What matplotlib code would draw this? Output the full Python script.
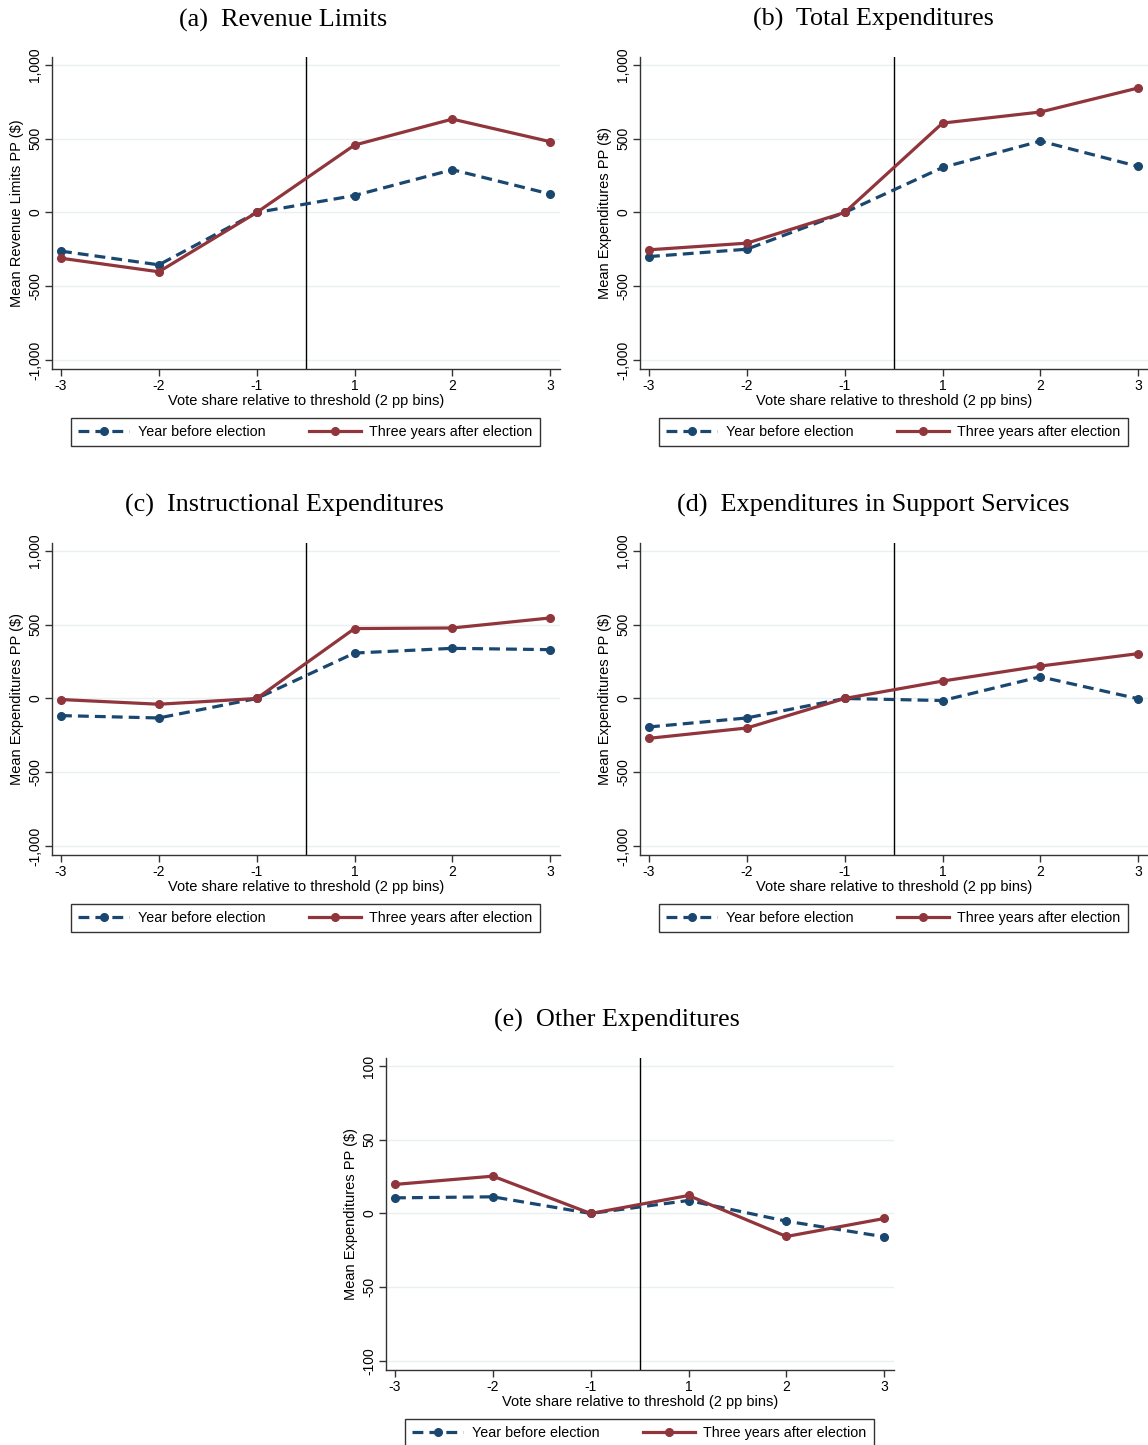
import matplotlib
matplotlib.use("Agg")
import matplotlib.pyplot as plt
import numpy as np
from matplotlib.ticker import FuncFormatter

plt.rcParams["font.family"] = ["Liberation Sans", "DejaVu Sans"]
plt.rcParams["axes.unicode_minus"] = False

NAVY, MAROON, GRID, SPINE = "#1a476f", "#90353b", "#e8f0f1", "#333333"

# ── data (bins of vote share relative to threshold) ─────────────────────
bins = ["-3", "-2", "-1", "1", "2", "3"]

rev_before = [-262, -355, 0, 115, 290, 125]
rev_after = [-310, -402, 0, 457, 633, 480]

tot_before = [-299, -249, 0, 305, 484, 312]
tot_after = [-253, -208, 0, 606, 681, 844]

ins_before = [-116, -132, 0, 308, 340, 331]
ins_after = [-7, -39, 0, 474, 478, 546]

sup_before = [-193, -132, 0, -14, 147, -2]
sup_after = [-270, -200, 0, 118, 220, 304]

oth_before = [10.6, 11.3, 0, 8.8, -5.2, -15.8]
oth_after = [19.7, 25.3, 0, 12.2, -15.6, -3.4]

titles = ["(a)  Revenue Limits", "(b)  Total Expenditures",
          "(c)  Instructional Expenditures",
          "(d)  Expenditures in Support Services",
          "(e)  Other Expenditures"]
ylabels = ["Mean Revenue Limits PP ($)", "Mean Expenditures PP ($)",
           "Mean Expenditures PP ($)", "Mean Expenditures PP ($)",
           "Mean Expenditures PP ($)"]
big_ticks = [-1000, -500, 0, 500, 1000]
small_ticks = [-100, -50, 0, 50, 100]
legend_labels = ["Year before election", "Three years after election"]

W, H = 1148, 1445
fig = plt.figure(figsize=(W / 100, H / 100), dpi=100)
fig.patch.set_facecolor("white")


def panel(left_px, bottom_px, title, title_xy, ylabel, before, after, yticks):
    ax = fig.add_axes([left_px / W, 1 - bottom_px / H, 508 / W, 312 / H])
    x = np.arange(len(bins))
    span = yticks[-1] - yticks[0]
    ax.set_xlim(-0.092, 5.1)
    ax.set_ylim(yticks[0] - 0.0305 * span, yticks[-1] + 0.027 * span)
    for t in yticks:
        ax.axhline(t, color=GRID, lw=1.0, zorder=0)
    cut = (bins.index("-1") + bins.index("1")) / 2
    ax.axvline(cut, color="black", lw=1.0, zorder=1)
    ax.plot(x, before, color=NAVY, lw=2.3, ls=(0, (3.4, 1.9)), marker="o",
            ms=5.5, label=legend_labels[0], zorder=3)
    ax.plot(x, after, color=MAROON, lw=2.3, marker="o", ms=5.5,
            label=legend_labels[1], zorder=3)
    ax.set_xticks(x)
    ax.set_xticklabels(bins)
    ax.set_yticks(yticks)
    ax.yaxis.set_major_formatter(FuncFormatter(lambda v, p: f"{v:,.0f}"))
    for s in ("top", "right"):
        ax.spines[s].set_visible(False)
    for s in ("left", "bottom"):
        ax.spines[s].set_color(SPINE)
        ax.spines[s].set_linewidth(1.0)
    ax.tick_params(axis="both", direction="out", length=5, width=1.0,
                   color=SPINE, labelsize=10, pad=2)
    ax.tick_params(axis="y", labelrotation=90)
    for lab in ax.get_yticklabels():
        lab.set_va("center")
    ax.set_xlabel("Vote share relative to threshold (2 pp bins)",
                  fontsize=10.5, labelpad=1)
    ax.set_ylabel(ylabel, fontsize=10.5, labelpad=3)
    leg = ax.legend(loc="upper left", bbox_to_anchor=(0.037, -0.177, 0.923, 0.02),
                    mode="expand", ncol=2, frameon=True, fancybox=False,
                    fontsize=10.3, handlelength=3.6, handletextpad=0.6,
                    borderpad=0.5, borderaxespad=0)
    leg.get_frame().set_edgecolor("black")
    leg.get_frame().set_linewidth(1.0)
    fig.text(title_xy[0] / W, 1 - title_xy[1] / H, title,
             family=["Liberation Serif", "DejaVu Serif"], fontsize=18.8,
             ha="center", va="center")
    return ax


panel(52, 369, titles[0], (283, 20), ylabels[0], rev_before, rev_after, big_ticks)
panel(640, 369, titles[1], (873, 19), ylabels[1], tot_before, tot_after, big_ticks)
panel(52, 855, titles[2], (284, 505), ylabels[2], ins_before, ins_after, big_ticks)
panel(640, 855, titles[3], (873, 505), ylabels[3], sup_before, sup_after, big_ticks)
panel(386, 1370, titles[4], (617, 1020), ylabels[4], oth_before, oth_after,
      small_ticks)

fig.savefig("out.png", dpi=100, facecolor="white")
